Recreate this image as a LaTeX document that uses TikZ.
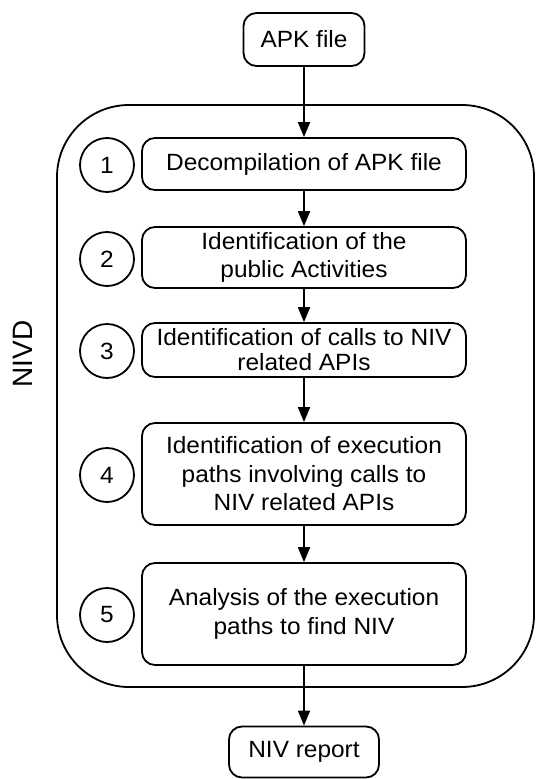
\documentclass[tikz,border=0pt]{standalone}
\usepackage{fontspec}
\setmainfont{Liberation Sans}[FakeStretch=1.04]
\newfontfamily\sidefont{Liberation Sans}
\usetikzlibrary{arrows.meta}

\begin{document}
\begin{tikzpicture}[x=1pt,y=-1pt,
  line width=1.8pt,
  stepbox/.style={draw, rounded corners=13pt, align=center, inner sep=0pt,
    font=\fontsize{23.5}{28.5}\selectfont},
  num/.style={draw, circle, minimum size=54pt, inner sep=0pt,
    font=\fontsize{23.5}{28}\selectfont},
  flow/.style={-{Triangle[length=15pt,width=12pt]}}]
\useasboundingbox (0,0) rectangle (536,779);

% outer tool frame
\node[draw, rounded corners=72pt, minimum width=477pt, minimum height=582pt,
  inner sep=0pt] (nivd) at (295.5,396) {};
\node[rotate=90, font=\sidefont\fontsize{28}{30}\selectfont] (lbl) at (23,354) {NIVD};

% input and output
\node[stepbox, minimum width=121pt, minimum height=53pt] (apk) at (304,39.5) {APK file};
\node[stepbox, minimum width=150pt, minimum height=51pt] (rep) at (304,752) {NIV report};

% analysis steps
\node[stepbox, minimum width=324pt, minimum height=52pt] (s1) at (304,164) {Decompilation of APK file};
\node[stepbox, minimum width=324pt, minimum height=61pt] (s2) at (304,257.5) {Identification of the\\public Activities};
\node[stepbox, minimum width=324pt, minimum height=54pt,
  font=\fontsize{23.5}{25}\selectfont] (s3) at (304,350) {Identification of calls to NIV\\related APIs};
\node[stepbox, minimum width=324pt, minimum height=102pt] (s4) at (304,474) {Identification of execution\\paths involving calls to\\NIV related APIs};
\node[stepbox, minimum width=324pt, minimum height=102pt] (s5) at (304,614) {Analysis of the execution\\paths to find NIV};

% step numbers
\node[num] (n1) at (107,165) {1};
\node[num] (n2) at (107,259) {2};
\node[num] (n3) at (107,351) {3};
\node[num] (n4) at (107,475) {4};
\node[num] (n5) at (107,615) {5};

% flow
\draw[flow] (apk.south) -- (s1.north);
\draw[flow] (s1.south) -- (s2.north);
\draw[flow] (s2.south) -- (s3.north);
\draw[flow] (s3.south) -- (s4.north);
\draw[flow] (s4.south) -- (s5.north);
\draw[flow] (s5.south) -- (rep.north);
\end{tikzpicture}
\end{document}
